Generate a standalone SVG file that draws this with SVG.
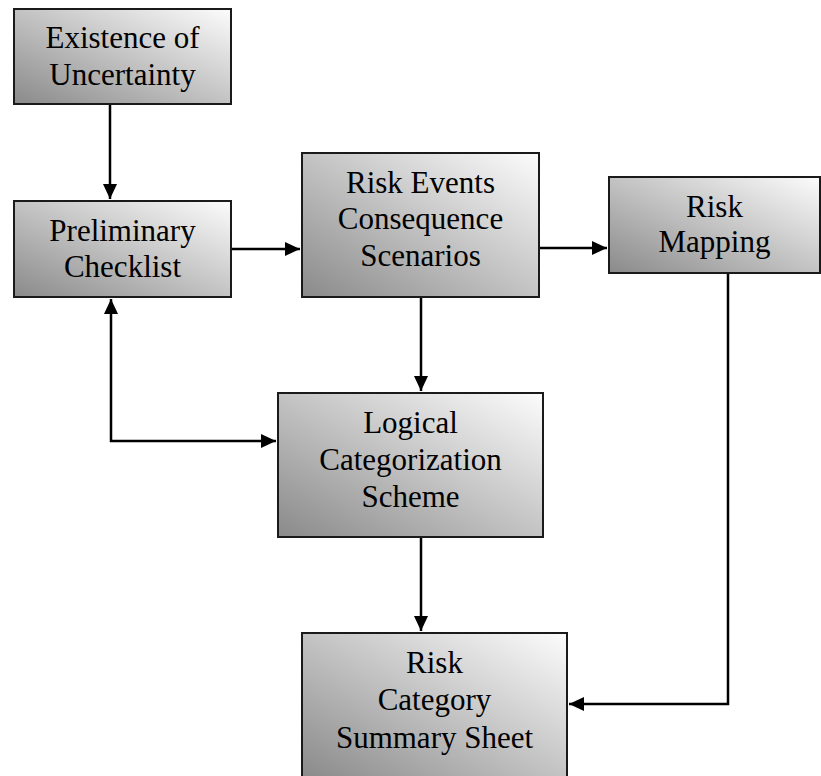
<svg xmlns="http://www.w3.org/2000/svg" width="821" height="776" viewBox="0 0 821 776">
<style>
.box{stroke:#1a1a1a;stroke-width:2;fill:url(#g)}
.t{font-family:"Liberation Serif","Times New Roman",serif;font-size:31px;fill:#000;text-anchor:middle}
.c{fill:none;stroke:#000;stroke-width:2.5}
</style>
<defs>
<linearGradient id="g" x1="0" y1="1" x2="1" y2="0">
<stop offset="0" stop-color="#8a8a8a"/>
<stop offset="1" stop-color="#fcfcfc"/>
</linearGradient>
<marker id="a" markerUnits="userSpaceOnUse" markerWidth="15" markerHeight="14" refX="15" refY="7" orient="auto-start-reverse">
<path d="M0,0 L15,7 L0,14 z" fill="#000"/>
</marker>
</defs>
<g id="connectors">
<path class="c" d="M110,104 V199" marker-end="url(#a)"/>
<path class="c" d="M231,249 H300" marker-end="url(#a)"/>
<path class="c" d="M539,248 H607" marker-end="url(#a)"/>
<path class="c" d="M421,297 V391" marker-end="url(#a)"/>
<path class="c" d="M111,299 V441 H276" marker-start="url(#a)" marker-end="url(#a)"/>
<path class="c" d="M421,537 V631" marker-end="url(#a)"/>
<path class="c" d="M728,273 V704 H569" marker-end="url(#a)"/>
</g>
<g id="n1"><rect class="box" x="14" y="9" width="217" height="95"/>
<text class="t" x="122.5" y="48">Existence of</text><text class="t" x="122.5" y="85">Uncertainty</text></g>
<g id="n2"><rect class="box" x="14" y="201" width="217" height="96"/>
<text class="t" x="122.5" y="241">Preliminary</text><text class="t" x="122.5" y="277">Checklist</text></g>
<g id="n3"><rect class="box" x="302" y="153" width="237" height="144"/>
<text class="t" x="420.5" y="193">Risk Events</text><text class="t" x="420.5" y="229">Consequence</text><text class="t" x="420.5" y="266">Scenarios</text></g>
<g id="n4"><rect class="box" x="609" y="177" width="211" height="96"/>
<text class="t" x="714.5" y="217">Risk</text><text class="t" x="714.5" y="252">Mapping</text></g>
<g id="n5"><rect class="box" x="278" y="393" width="265" height="144"/>
<text class="t" x="410.5" y="433">Logical</text><text class="t" x="410.5" y="470">Categorization</text><text class="t" x="410.5" y="507">Scheme</text></g>
<g id="n6"><rect class="box" x="302" y="633" width="265" height="145"/>
<text class="t" x="434.5" y="673">Risk</text><text class="t" x="434.5" y="710">Category</text><text class="t" x="434.5" y="748">Summary Sheet</text></g>
</svg>
